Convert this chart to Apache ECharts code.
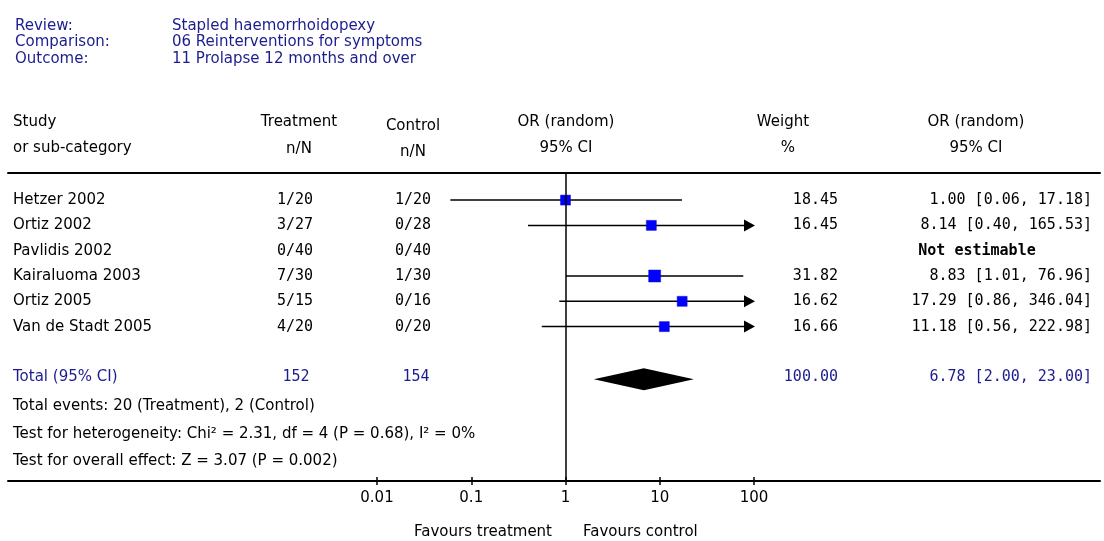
<!DOCTYPE html>
<html>
<head>
<meta charset="utf-8">
<script src="https://cdn.jsdelivr.net/npm/echarts@6/dist/echarts.min.js"></script>
<style>
  html, body { margin: 0; padding: 0; background: #fff; }
  #chart { width: 1104px; height: 541px; }
</style>
</head>
<body>
<div id="chart"></div>
<script>
// 数据
const studies = ['Hetzer 2002', 'Ortiz 2002', 'Pavlidis 2002', 'Kairaluoma 2003', 'Ortiz 2005', 'Van de Stadt 2005'];
const treatment = ['1/20', '3/27', '0/40', '7/30', '5/15', '4/20'];
const control = ['1/20', '0/28', '0/40', '1/30', '0/16', '0/20'];
const weights = [18.45, 16.45, null, 31.82, 16.62, 16.66];
const oddsRatio = [1.00, 8.14, null, 8.83, 17.29, 11.18];
const ciLow = [0.06, 0.40, null, 1.01, 0.86, 0.56];
const ciHigh = [17.18, 165.53, null, 76.96, 346.04, 222.98];
const totalN = [152, 154];
const totalEst = [2.00, 6.78, 23.00]; // low, OR, high
const totalWeight = 100.00;
const tickLabels = ['0.01', '0.1', '1', '10', '100'];

const titleKeys = ['Review:', 'Comparison:', 'Outcome:'];
const titleVals = ['Stapled haemorrhoidopexy', '06 Reinterventions for symptoms', '11 Prolapse 12 months and over'];
const footer = [
  'Total events: 20 (Treatment), 2 (Control)',
  'Test for heterogeneity: Chi² = 2.31, df = 4 (P = 0.68), I² = 0%',
  'Test for overall effect: Z = 3.07 (P = 0.002)'
];

const SANS = 'DejaVu Sans';
const MONO = 'DejaVu Sans Mono';
const NAVY = '#1c1c8f';
const FS = 15;
const xMin = 0.01, xMax = 100;
const yMin = -1.07, yMax = 11.1;
const totalRow = 7;

const chart = echarts.init(document.getElementById('chart'));

// 表格列（第二个 grid，x 轴按像素）
function column(x, align, cells, opts = {}) {
  return {
    type: 'scatter', xAxisIndex: 1, yAxisIndex: 1, silent: true,
    symbolSize: 1, itemStyle: { color: 'rgba(0,0,0,0)', opacity: 1 },
    emphasis: { disabled: true },
    data: cells.filter(c => c[1] != null).map(c => [x, c[0], c[1]]),
    label: {
      show: true, position: 'inside', align, verticalAlign: 'middle', opacity: 1,
      formatter: p => p.data[2],
      color: opts.color || '#000', fontFamily: opts.font || SANS,
      fontSize: opts.size || FS, fontWeight: opts.weight || 'normal'
    }
  };
}

const fmt = v => v.toFixed(2);
const orText = studies.map((s, i) => oddsRatio[i] == null ? 'Not estimable'
  : `${fmt(oddsRatio[i])} [${fmt(ciLow[i])}, ${fmt(ciHigh[i])}]`);

const tableSeries = [
  column(13, 'left', studies.map((s, i) => [i, s])),
  column(295, 'center', treatment.map((s, i) => [i, s]), { font: MONO }),
  column(413, 'center', control.map((s, i) => [i, s]), { font: MONO }),
  column(838, 'right', weights.map((w, i) => [i, w == null ? null : fmt(w)]), { font: MONO }),
  column(1092, 'right', orText.map((t, i) => [i, oddsRatio[i] == null ? null : t]), { font: MONO }),
  column(977, 'center', orText.map((t, i) => [i, oddsRatio[i] == null ? t : null]), { font: MONO, weight: 'bold' }),
  // 合计行
  column(13, 'left', [[totalRow, 'Total (95% CI)']], { color: NAVY }),
  column(296, 'center', [[totalRow, String(totalN[0])]], { color: NAVY, font: MONO }),
  column(416, 'center', [[totalRow, String(totalN[1])]], { color: NAVY, font: MONO }),
  column(838, 'right', [[totalRow, fmt(totalWeight)]], { color: NAVY, font: MONO }),
  column(1092, 'right', [[totalRow, `${fmt(totalEst[1])} [${fmt(totalEst[0])}, ${fmt(totalEst[2])}]`]], { color: NAVY, font: MONO })
];

const ciData = studies.map((s, i) => [ciLow[i], ciHigh[i], i]).filter(d => d[0] != null);
const markerData = studies.map((s, i) => [oddsRatio[i], i, weights[i]]).filter(d => d[0] != null);

const graphicText = (x, y, text, opts = {}) => ({
  type: 'text', x, y, silent: true,
  style: {
    text, fill: opts.color || '#000', font: `${opts.size || FS}px "${opts.font || SANS}"`,
    textAlign: opts.align || 'left', textVerticalAlign: 'middle'
  }
});

const headers = [
  graphicText(13, 122, 'Study'), graphicText(13, 148, 'or sub-category'),
  graphicText(299, 122, 'Treatment', { align: 'center' }), graphicText(299, 149, 'n/N', { align: 'center' }),
  graphicText(413, 126, 'Control', { align: 'center' }), graphicText(413, 152, 'n/N', { align: 'center' }),
  graphicText(566, 122, 'OR (random)', { align: 'center' }), graphicText(566, 148, '95% CI', { align: 'center' }),
  graphicText(783, 122, 'Weight', { align: 'center' }), graphicText(788, 148, '%', { align: 'center' }),
  graphicText(976, 122, 'OR (random)', { align: 'center' }), graphicText(976, 148, '95% CI', { align: 'center' })
];
const titles = [];
titleKeys.forEach((k, i) => {
  const y = 26 + i * 16.5;
  titles.push(graphicText(15, y, k, { color: NAVY }), graphicText(172, y, titleVals[i], { color: NAVY }));
});
const footerText = footer.map((t, i) => graphicText(13, [406, 434, 461][i], t));
const favours = [
  graphicText(552, 532, 'Favours treatment', { align: 'right' }),
  graphicText(583, 532, 'Favours control')
];

// 对数轴（刻度上下各一段）
const logAxis = (inside, labels) => ({
  type: 'log', logBase: 10, min: xMin, max: xMax, gridIndex: 0, position: 'bottom',
  axisLine: { show: false, onZero: false },
  axisTick: { show: true, inside, length: 4, lineStyle: { color: '#000', width: 1.5 } },
  axisLabel: {
    show: labels, color: '#000', fontFamily: SANS, fontSize: FS, margin: 10,
    formatter: v => tickLabels[Math.round(Math.log10(v)) + 2]
  },
  splitLine: { show: false }, minorTick: { show: false }
});

chart.setOption({
  backgroundColor: '#fff',
  animation: false,
  grid: [
    { left: 377, right: 350, top: 173, height: 308, outerBoundsMode: 'none' },
    { left: 8, right: 4, top: 173, height: 308, outerBoundsMode: 'none' }
  ],
  xAxis: [
    logAxis(false, true),
    {
      type: 'value', min: 8, max: 1100, gridIndex: 1, position: 'bottom',
      axisLine: { show: true, onZero: false, lineStyle: { color: '#000', width: 2 } },
      axisTick: { show: false }, axisLabel: { show: false }, splitLine: { show: false }
    },
    {
      type: 'value', min: 8, max: 1100, gridIndex: 1, position: 'top',
      axisLine: { show: true, onZero: false, lineStyle: { color: '#000', width: 2 } },
      axisTick: { show: false }, axisLabel: { show: false }, splitLine: { show: false }
    },
    logAxis(true, false)
  ],
  yAxis: [
    { type: 'value', inverse: true, min: yMin, max: yMax, gridIndex: 0, show: false },
    { type: 'value', inverse: true, min: yMin, max: yMax, gridIndex: 1, show: false }
  ],
  graphic: [...titles, ...headers, ...footerText, ...favours],
  series: [
    // 置信区间
    {
      type: 'custom', xAxisIndex: 0, yAxisIndex: 0, silent: true, z: 2,
      encode: { x: [0, 1], y: 2 },
      data: ciData,
      renderItem(params, api) {
        const row = api.value(2);
        const hi = api.value(1);
        const a = api.coord([Math.max(api.value(0), xMin), row]);
        const b = api.coord([Math.min(hi, xMax), row]);
        const clipped = hi > xMax;
        const children = [{
          type: 'line',
          shape: { x1: a[0], y1: a[1], x2: clipped ? b[0] - 8 : b[0], y2: b[1] },
          style: { stroke: '#000', lineWidth: 1.5 }
        }];
        if (clipped) {
          children.push({
            type: 'polygon',
            shape: { points: [[b[0] + 1, b[1]], [b[0] - 10, b[1] - 6], [b[0] - 10, b[1] + 6]] },
            style: { fill: '#000' }
          });
        }
        return { type: 'group', children };
      },
      markLine: {
        silent: true, symbol: 'none', label: { show: false },
        lineStyle: { color: '#000', width: 1.5, type: 'solid', opacity: 1 },
        data: [{ xAxis: 1 }]
      }
    },
    // 方块
    {
      type: 'scatter', xAxisIndex: 0, yAxisIndex: 0, silent: true, z: 3,
      symbol: 'rect',
      symbolSize: d => Math.round(4 + Math.sqrt(d[2]) * 1.45),
      itemStyle: { color: '#0000ff', borderColor: '#1010c0', borderWidth: 0.5, opacity: 1 },
      data: markerData
    },
    // 合计菱形
    {
      type: 'custom', xAxisIndex: 0, yAxisIndex: 0, silent: true, z: 3,
      encode: { x: [0, 1, 2], y: 3 },
      data: [[totalEst[0], totalEst[1], totalEst[2], totalRow]],
      renderItem(params, api) {
        const row = api.value(3);
        const l = api.coord([api.value(0), row]);
        const c = api.coord([api.value(1), row]);
        const r = api.coord([api.value(2), row]);
        const y = l[1] + 2;
        return {
          type: 'polygon',
          shape: { points: [[l[0], y], [c[0], y - 11], [r[0], y], [c[0], y + 11]] },
          style: { fill: '#000' }
        };
      }
    },
    ...tableSeries
  ]
});
</script>
</body>
</html>
